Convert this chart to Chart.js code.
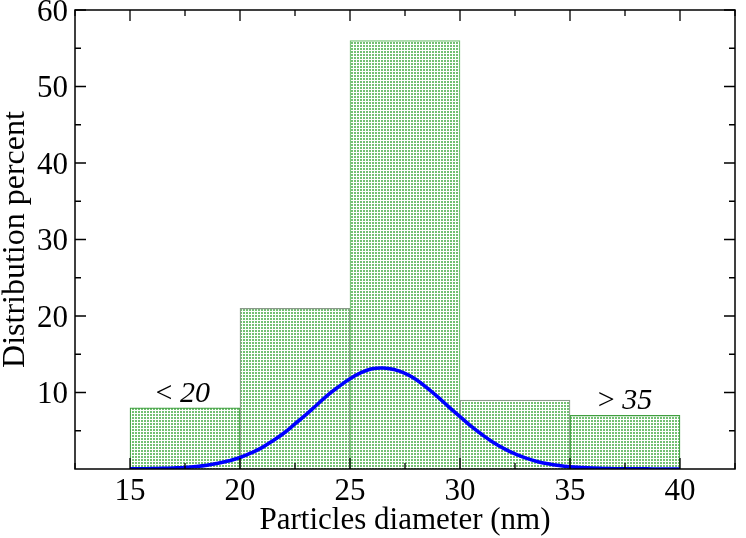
<!DOCTYPE html>
<html>
<head>
<meta charset="utf-8">
<script src="https://cdn.jsdelivr.net/npm/chart.js@4.4.1/dist/chart.umd.min.js"></script>
<style>
  html, body { margin: 0; padding: 0; background: #fff; }
  #wrap { width: 746px; height: 538px; }
</style>
</head>
<body>
<div id="wrap"><canvas id="chart" width="746" height="538"></canvas></div>
<script>
// histogram bins (centre of each 5 nm bin) and percentages
const binCentres = [17.5, 22.5, 27.5, 32.5, 37.5];
const binPercent = [8, 21, 56, 9, 7];

// fitted distribution curve
const curveX = [15, 15.5, 16, 16.5, 17, 17.5, 18, 18.5, 19, 19.5, 20, 20.5, 21, 21.5, 22, 22.5,
  23, 23.5, 24, 24.5, 25, 25.5, 26, 26.5, 27, 27.5, 28, 28.5, 29, 29.5, 30, 30.5, 31, 31.5,
  32, 32.5, 33, 33.5, 34, 34.5, 35, 35.5, 36, 36.5, 37, 37.5, 38, 38.5, 39, 39.5, 40];
const curveY = [0.01, 0.03, 0.05, 0.08, 0.13, 0.2, 0.32, 0.49, 0.74, 1.07, 1.5, 2.1, 2.8, 3.7,
  4.7, 5.9, 7.1, 8.4, 9.7, 10.8, 11.8, 12.6, 13.1, 13.2, 13.0, 12.5, 11.7, 10.6, 9.4, 8.1,
  6.85, 5.6, 4.5, 3.5, 2.66, 1.97, 1.42, 0.99, 0.68, 0.45, 0.29, 0.19, 0.11, 0.07, 0.04,
  0.02, 0.01, 0.01, 0, 0, 0];

// axis ticks
const xTicks = [15, 20, 25, 30, 35, 40];
const xMinorTicks = [12.5, 17.5, 22.5, 27.5, 32.5, 37.5, 42.5];
const yTicks = [10, 20, 30, 40, 50, 60];
const yMinorTicks = [5, 15, 25, 35, 45, 55];

// bin annotations
const noteText = ['20', '35'];
const notePrefix = ['< ', '> '];
const noteX = [17.4, 37.5];
const noteY = [8.8, 7.85];

function makePattern() {
  const tile = document.createElement('canvas');
  tile.width = 3;
  tile.height = 3;
  const t = tile.getContext('2d');
  t.fillStyle = '#ffffff';
  t.fillRect(0, 0, 3, 3);
  t.fillStyle = 'rgb(115,192,115)';
  t.fillRect(0, 0, 2, 2);
  return t.createPattern(tile, 'repeat');
}

const serif = '"Liberation Serif", "DejaVu Serif", serif';

// box frame with inward ticks on all four sides
const framePlugin = {
  id: 'frame',
  afterDatasetsDraw(chart) {
    const { ctx, chartArea: a, scales } = chart;
    const x = scales.x, y = scales.y;
    ctx.save();
    ctx.strokeStyle = '#000';
    ctx.lineWidth = 1.5;
    ctx.strokeRect(a.left, a.top, a.right - a.left, a.bottom - a.top);
    ctx.lineWidth = 1.3;
    ctx.beginPath();
    function xt(v, len) {
      const px = x.getPixelForValue(v);
      ctx.moveTo(px, a.bottom); ctx.lineTo(px, a.bottom - len);
      ctx.moveTo(px, a.top); ctx.lineTo(px, a.top + len);
    }
    function yt(v, len) {
      const py = y.getPixelForValue(v);
      ctx.moveTo(a.left, py); ctx.lineTo(a.left + len, py);
      ctx.moveTo(a.right, py); ctx.lineTo(a.right - len, py);
    }
    xTicks.forEach(v => xt(v, 11));
    xMinorTicks.forEach(v => xt(v, 6));
    yTicks.forEach(v => yt(v, 11));
    yMinorTicks.forEach(v => yt(v, 6));
    ctx.stroke();

    // annotations above the open-ended bins
    ctx.fillStyle = '#000';
    ctx.textBaseline = 'alphabetic';
    for (let i = 0; i < noteText.length; i++) {
      const px = x.getPixelForValue(noteX[i]);
      const py = y.getPixelForValue(noteY[i]);
      ctx.font = '30px ' + serif;
      const w1 = ctx.measureText(notePrefix[i]).width;
      ctx.font = 'italic 30px ' + serif;
      const w2 = ctx.measureText(noteText[i]).width;
      const x0 = px - (w1 + w2) / 2;
      ctx.font = '30px ' + serif;
      ctx.fillText(notePrefix[i], x0, py);
      ctx.font = 'italic 30px ' + serif;
      ctx.fillText(noteText[i], x0 + w1, py);
    }
    ctx.restore();
  }
};

const ctx = document.getElementById('chart').getContext('2d');
const pattern = makePattern();

new Chart(ctx, {
  type: 'bar',
  data: {
    datasets: [
      {
        type: 'line',
        data: curveX.map((v, i) => ({ x: v, y: curveY[i] })),
        borderColor: '#0000ff',
        borderWidth: 3.6,
        pointRadius: 0,
        tension: 0.4,
        fill: false,
        order: 0
      },
      {
        type: 'bar',
        data: binCentres.map((v, i) => ({ x: v, y: binPercent[i] })),
        backgroundColor: pattern,
        borderColor: ['#3f9f3f', '#8a9a8a', '#6cbf6c', '#8a9a8a', '#3f9f3f'],
        borderWidth: 1.2,
        barPercentage: 1,
        categoryPercentage: 1,
        order: 1
      }
    ]
  },
  options: {
    responsive: false,
    animation: false,
    layout: { padding: { left: 0, right: 11, top: 10, bottom: 0 } },
    plugins: {
      legend: { display: false },
      tooltip: { enabled: false }
    },
    scales: {
      x: {
        type: 'linear',
        offset: false,
        min: 12.5,
        max: 42.5,
        afterBuildTicks: s => { s.ticks = xTicks.map(v => ({ value: v })); },
        afterFit: s => { s.height = 69; s.paddingLeft = 0; s.paddingRight = 0; },
        grid: { display: false, drawTicks: false },
        border: { display: false },
        ticks: {
          padding: 4,
          color: '#000',
          font: { family: serif, size: 31 }
        },
        title: {
          display: true,
          text: 'Particles diameter (nm)',
          color: '#000',
          font: { family: serif, size: 31, lineHeight: 1.1 },
          padding: 0
        }
      },
      y: {
        min: 0,
        max: 60,
        afterBuildTicks: s => { s.ticks = yTicks.map(v => ({ value: v })); },
        afterFit: s => { s.width = 75; s.paddingTop = 0; s.paddingBottom = 0; },
        grid: { display: false, drawTicks: false },
        border: { display: false },
        ticks: {
          padding: 7,
          labelOffset: 2.5,
          color: '#000',
          font: { family: serif, size: 31 }
        },
        title: {
          display: true,
          text: 'Distribution percent',
          color: '#000',
          font: { family: serif, size: 32, lineHeight: 1 },
          padding: 0
        }
      }
    }
  },
  plugins: [framePlugin]
});
</script>
</body>
</html>
